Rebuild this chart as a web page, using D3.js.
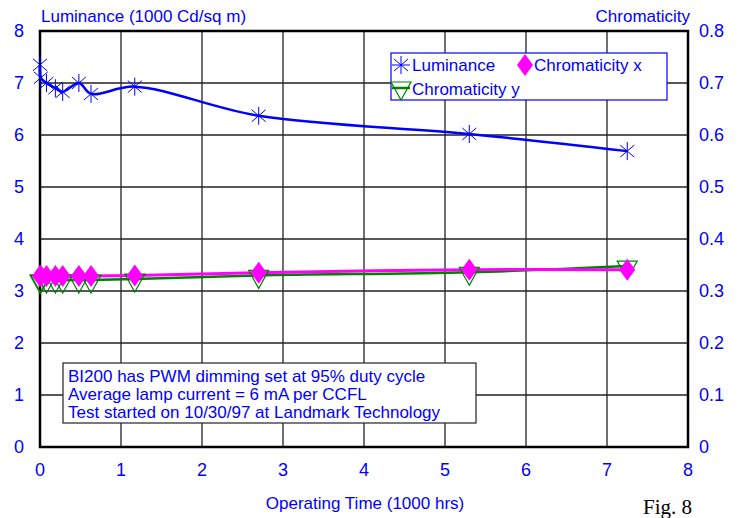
<!DOCTYPE html>
<meta charset="utf-8">
<script src="https://d3js.org/d3.v7.min.js"></script>
<style>
  body { margin: 0; background: #fff; }
  text { font-family: "Liberation Sans", Arial, sans-serif; }
</style>
<div id="chart"></div>
<script>
    // operating time (1000 hrs)
    const hours = [0, 0.01, 0.08, 0.19, 0.28, 0.48, 0.63, 1.17, 2.7, 5.3, 7.25];
    // luminance (1000 Cd/sq m)
    const luminance = [7.35, 7.1, 7.0, 6.9, 6.83, 7.0, 6.79, 6.93, 6.37, 6.02, 5.69];
    const chromX = [0.329, 0.329, 0.329, 0.329, 0.329, 0.329, 0.329, 0.33, 0.335, 0.341, 0.341];
    const chromY = [0.321, 0.321, 0.321, 0.321, 0.321, 0.321, 0.321, 0.323, 0.33, 0.336, 0.348];
    const xTicks = [0, 1, 2, 3, 4, 5, 6, 7, 8];
    const lumTicks = [0, 1, 2, 3, 4, 5, 6, 7, 8];
    const chromTicks = [0, 0.1, 0.2, 0.3, 0.4, 0.5, 0.6, 0.7, 0.8];
    const notes = [
        "BI200 has PWM dimming set at 95% duty cycle",
        "Average lamp current = 6 mA per CCFL",
        "Test started on 10/30/97 at Landmark Technology"
    ];

    const W = 746, H = 518;
    const blue = "#0000ff", pink = "#ff00ff", green = "#008000";

    const svg = d3.select("#chart").append("svg")
        .attr("width", W).attr("height", H);

    const x = d3.scaleLinear().domain([0, 8]).range([40, 688]);
    const yL = d3.scaleLinear().domain([0, 8]).range([447, 31]);
    const yR = d3.scaleLinear().domain([0, 0.8]).range([447, 31]);

    // grid
    svg.append("g").selectAll("line.h").data(lumTicks).join("line")
        .attr("x1", x(0)).attr("x2", x(8))
        .attr("y1", d => yL(d)).attr("y2", d => yL(d))
        .attr("stroke", "#222").attr("stroke-width", 1.3);
    svg.append("g").selectAll("line.v").data(xTicks).join("line")
        .attr("x1", d => x(d)).attr("x2", d => x(d))
        .attr("y1", yL(0)).attr("y2", yL(8))
        .attr("stroke", "#222").attr("stroke-width", 1.3);

    // frame
    svg.append("rect")
        .attr("x", x(0)).attr("y", yL(8))
        .attr("width", x(8) - x(0)).attr("height", yL(0) - yL(8))
        .attr("fill", "none").attr("stroke", "#000").attr("stroke-width", 2.5);

    // tick labels
    svg.append("g").selectAll("text").data(lumTicks).join("text")
        .attr("x", 24).attr("y", d => yL(d) + 6)
        .attr("text-anchor", "end")
        .attr("font-size", 18).attr("fill", blue)
        .text(d => d);
    svg.append("g").selectAll("text").data(chromTicks).join("text")
        .attr("x", 699).attr("y", d => yR(d) + 6)
        .attr("font-size", 18).attr("fill", blue)
        .text(d => d === 0 ? "0" : d3.format(".1f")(d));
    svg.append("g").selectAll("text").data(xTicks).join("text")
        .attr("x", d => x(d)).attr("y", 476)
        .attr("text-anchor", "middle")
        .attr("font-size", 18).attr("fill", blue)
        .text(d => d);

    // titles
    svg.append("text").attr("x", 41).attr("y", 22)
        .attr("font-size", 17).attr("fill", blue)
        .text("Luminance (1000 Cd/sq m)");
    svg.append("text").attr("x", 690).attr("y", 22)
        .attr("text-anchor", "end")
        .attr("font-size", 17).attr("fill", blue)
        .text("Chromaticity");
    svg.append("text").attr("x", 365).attr("y", 509)
        .attr("text-anchor", "middle")
        .attr("font-size", 17).attr("fill", blue)
        .text("Operating Time (1000 hrs)");
    svg.append("text").attr("x", 692).attr("y", 514)
        .attr("text-anchor", "end")
        .style("font-family", "'Liberation Serif', 'Times New Roman', serif")
        .attr("font-size", 21).attr("fill", "#000")
        .text("Fig. 8");

    const lum = hours.map((h, i) => ({ h: h, v: luminance[i] }));
    const cx = hours.map((h, i) => ({ h: h, v: chromX[i] }));
    const cy = hours.map((h, i) => ({ h: h, v: chromY[i] }));

    // chromaticity y
    svg.append("path").datum(cy)
        .attr("d", d3.line().x(d => x(d.h)).y(d => yR(d.v)).curve(d3.curveCatmullRom))
        .attr("fill", "none").attr("stroke", green).attr("stroke-width", 2.5);
    // chromaticity x
    svg.append("path").datum(cx)
        .attr("d", d3.line().x(d => x(d.h)).y(d => yR(d.v)).curve(d3.curveCatmullRom))
        .attr("fill", "none").attr("stroke", pink).attr("stroke-width", 3);

    const tri = "M-10,-8L10,-8L0,10Z";
    const dia = "M0,-11L8,0L0,11L-8,0Z";

    svg.append("g").selectAll("path").data(cy).join("path")
        .attr("transform", d => `translate(${x(d.h)},${yR(d.v) + 3})`)
        .attr("d", tri)
        .attr("fill", "none").attr("stroke", green).attr("stroke-width", 1.2);
    svg.append("g").selectAll("path").data(cx).join("path")
        .attr("transform", d => `translate(${x(d.h)},${yR(d.v)})`)
        .attr("d", dia)
        .attr("fill", pink);

    // luminance
    svg.append("path").datum(lum)
        .attr("d", d3.line().x(d => x(d.h)).y(d => yL(d.v)).curve(d3.curveCatmullRom))
        .attr("fill", "none").attr("stroke", blue).attr("stroke-width", 2.5);
    svg.append("g").selectAll("path").data(lum).join("path")
        .attr("transform", d => `translate(${x(d.h)},${yL(d.v)})`)
        .attr("d", "M-7,-6L7,6M-7,6L7,-6M0,-9L0,9")
        .attr("fill", "none").attr("stroke", blue).attr("stroke-width", 1);

    // legend
    const lg = svg.append("g");
    lg.append("rect").attr("x", 391).attr("y", 53).attr("width", 276).attr("height", 47)
        .attr("fill", "#fff").attr("stroke", blue).attr("stroke-width", 1.2);
    lg.append("path").attr("transform", "translate(401,65)")
        .attr("d", "M-7,-6L7,6M-7,6L7,-6M0,-9L0,9M-9,0L9,0")
        .attr("fill", "none").attr("stroke", blue).attr("stroke-width", 1);
    lg.append("text").attr("x", 412).attr("y", 71).attr("font-size", 17).attr("fill", blue).text("Luminance");
    lg.append("path").attr("transform", "translate(525,65)").attr("d", dia).attr("fill", pink);
    lg.append("text").attr("x", 534).attr("y", 71).attr("font-size", 17).attr("fill", blue).text("Chromaticity x");
    lg.append("line").attr("x1", 392).attr("x2", 410).attr("y1", 88).attr("y2", 88)
        .attr("stroke", green).attr("stroke-width", 2.5);
    lg.append("path").attr("transform", "translate(401,90)").attr("d", tri)
        .attr("fill", "none").attr("stroke", green).attr("stroke-width", 1.2);
    lg.append("text").attr("x", 412).attr("y", 95).attr("font-size", 17).attr("fill", blue).text("Chromaticity y");

    // notes box
    const nb = svg.append("g");
    nb.append("rect").attr("x", 63).attr("y", 363).attr("width", 413).attr("height", 60)
        .attr("fill", "#fff").attr("stroke", "#222").attr("stroke-width", 1.2);
    nb.selectAll("text").data(notes).join("text")
        .attr("x", 68).attr("y", (d, i) => 382 + i * 18)
        .attr("font-size", 17).attr("fill", blue)
        .text(d => d);
</script>
